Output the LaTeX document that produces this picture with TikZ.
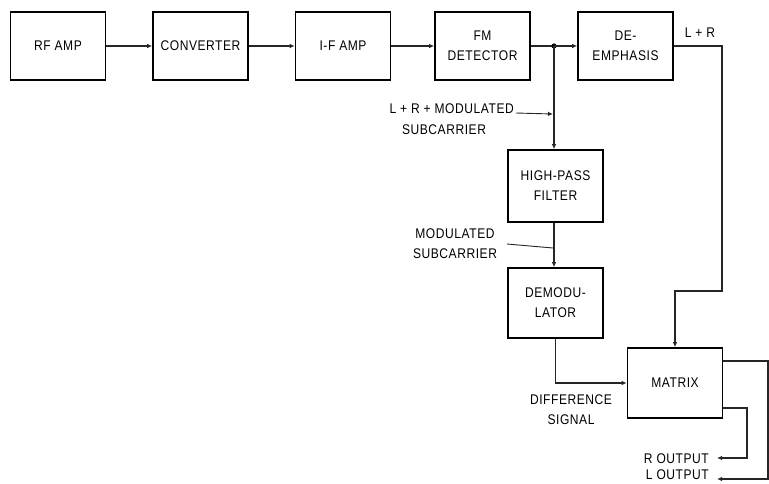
\documentclass[tikz,border=0pt]{standalone}
\usepackage{fontspec}
\setmainfont{Liberation Sans}[LetterSpace=4, FakeStretch=0.86]
\usetikzlibrary{arrows.meta}
\begin{document}
\begin{tikzpicture}[x=1pt,y=-1pt,
  font=\fontsize{14}{20}\selectfont,
  box/.style={draw, line width=1.6pt, minimum width=95pt, minimum height=68pt, align=center, inner sep=2pt},
  conn/.style={line width=1.2pt, draw=black!85},
  arr/.style={conn, -{Latex[length=5pt,width=4.5pt]}},
  lab/.style={align=center, inner sep=1pt}]
\useasboundingbox (0,0) rectangle (769,483);
% blocks
\node[box] (rf)   at (58,46)    {RF AMP};
\node[box] (conv) at (200.5,46) {CONVERTER};
\node[box] (ifa)  at (343,46)   {I-F AMP};
\node[box] (fm)   at (482.5,46) {FM\\DETECTOR};
\node[box] (de)   at (625.5,46) {DE-\\EMPHASIS};
\node[box, minimum height=72pt] (hp) at (555.5,186) {HIGH-PASS\\FILTER};
\node[box, minimum height=70pt] (dm) at (555.5,303) {DEMODU-\\LATOR};
\node[box, minimum height=70pt] (mx) at (675,383)   {MATRIX};
% coordinates
\coordinate (j) at (554,46);
\coordinate (c1) at (722,291);
\coordinate (ro) at (717,458);
\coordinate (lo) at (717,479);
\coordinate (a1s) at (516,113);
\coordinate (a1e) at (553,114);
\coordinate (a2s) at (507,244);
\coordinate (a2e) at (553,248);
% main chain
\draw[arr] (rf) -- (conv);
\draw[arr] (conv) -- (ifa);
\draw[arr] (ifa) -- (fm);
\draw[conn] (fm) -- (j);
\fill (j) circle (2.6pt);
\draw[arr] (j) -- (de);
\draw[arr] (j) -- (j |- hp.north);
\draw[arr] (j |- hp.south) -- (j |- dm.north);
\draw[arr] (de.east) -| (c1) -| (mx.north);
\draw[arr] (dm.south) |- (mx.west);
\draw[arr] ([yshift=22pt]mx.east) -- (768,361) |- (lo);
\draw[arr] ([yshift=-25pt]mx.east) -- (747,408) |- (ro);
% labels
\node[lab] (lr) at (700,33) {L + R};
\node[lab, anchor=east] (t1) at (515,109) {L + R + MODULATED};
\node[lab] (t1b) at (444,130) {SUBCARRIER};
\draw[arr, line width=0.9pt] (a1s) -- (a1e);
\node[lab] (t2) at (455,234) {MODULATED};
\node[lab] (t2b) at (455,254) {SUBCARRIER};
\draw[conn, line width=0.9pt] (a2s) -- (a2e);
\node[lab] (ds) at (571,410) {DIFFERENCE\\SIGNAL};
\node[lab, anchor=east] (rt) at (710,459) {R OUTPUT};
\node[lab, anchor=east] (lt) at (710,475) {L OUTPUT};
\end{tikzpicture}
\end{document}
